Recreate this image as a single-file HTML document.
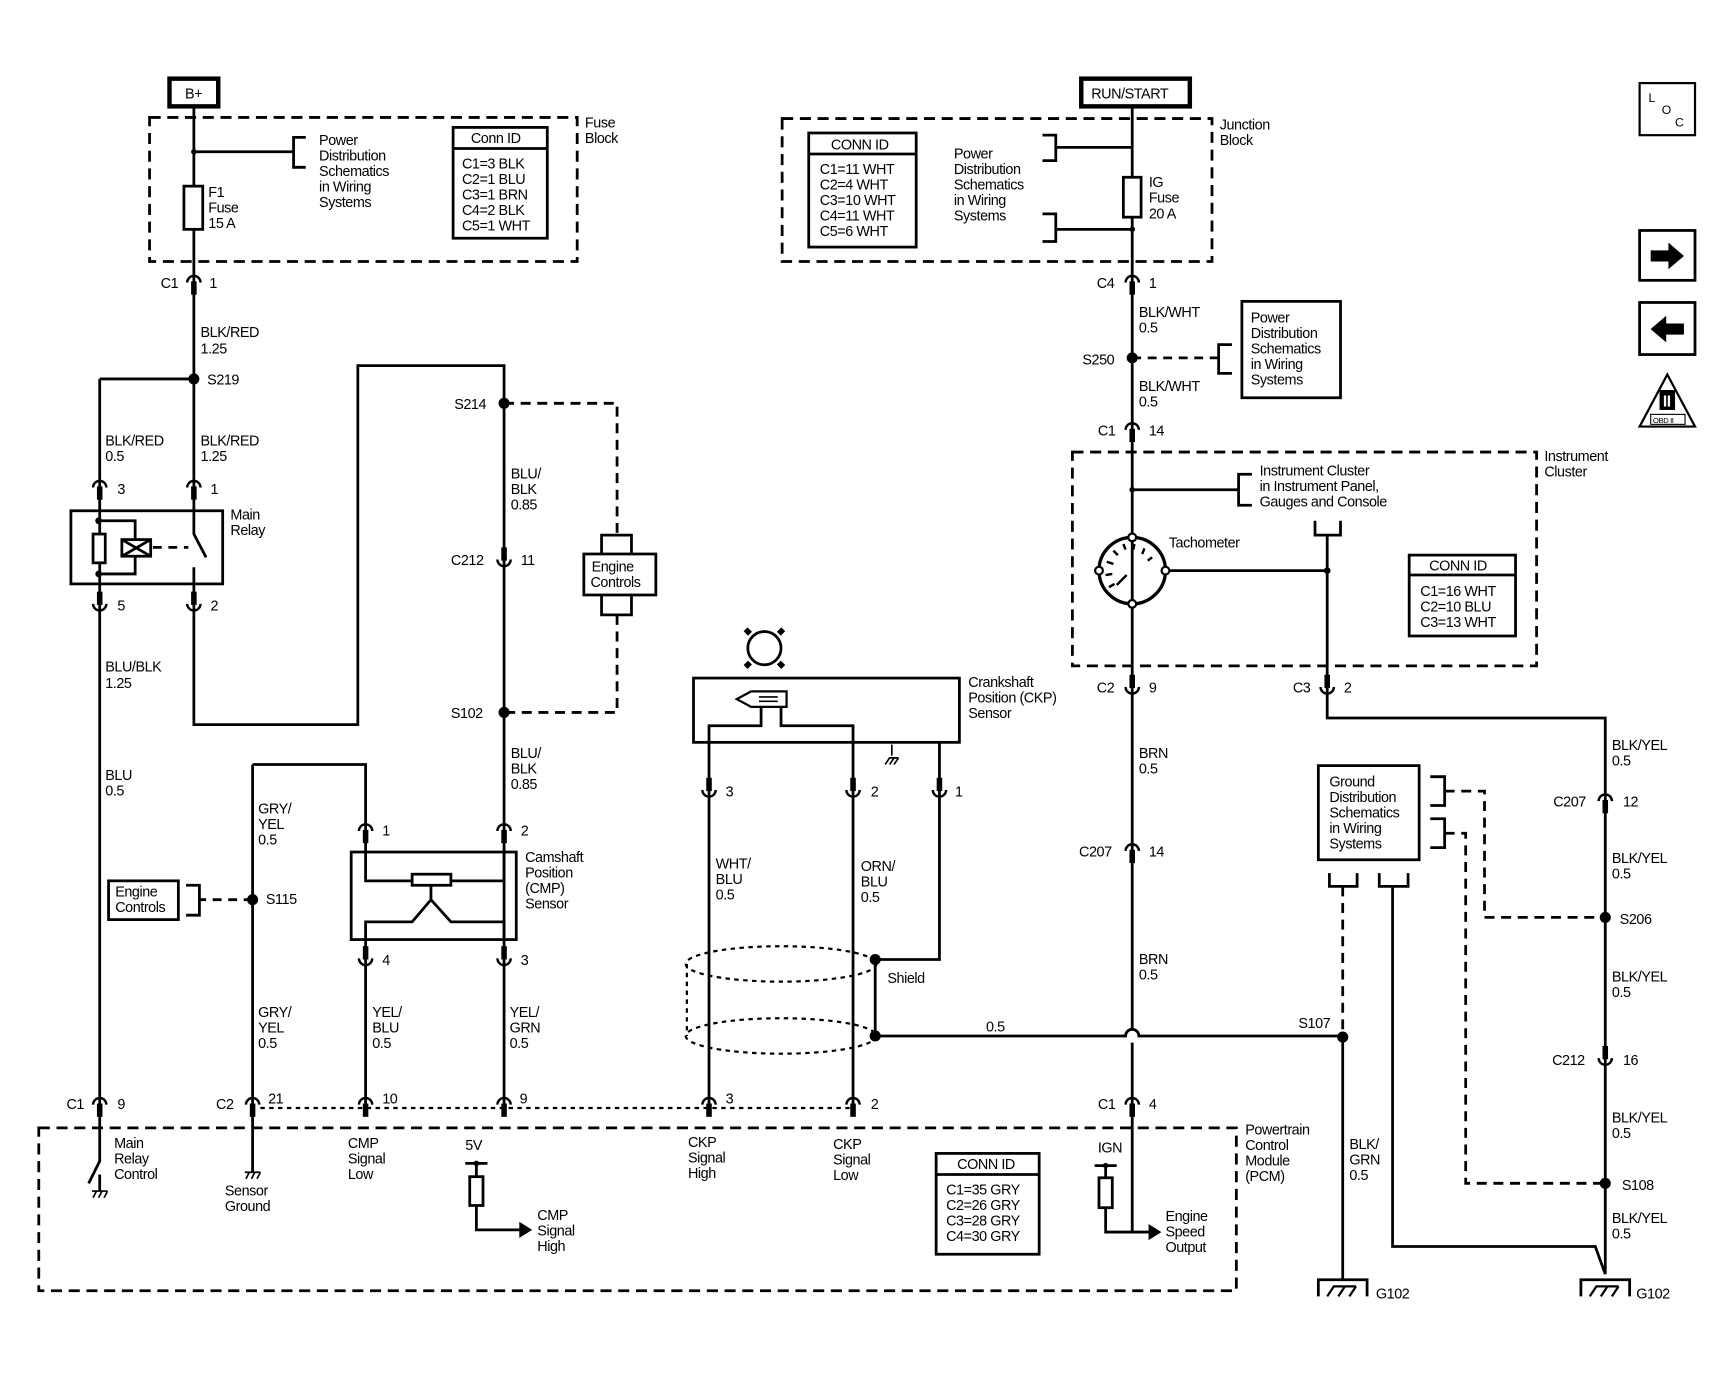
<!DOCTYPE html>
<html><head><meta charset="utf-8"><style>
html,body{margin:0;padding:0;background:#fff}
svg{display:block}
text{font-family:"Liberation Sans",Arial,sans-serif;font-size:13px;fill:#000;letter-spacing:-0.4px}
</style></head><body>
<svg width="1736" height="1375" viewBox="0 0 1567 1241" preserveAspectRatio="none" xmlns="http://www.w3.org/2000/svg">
<defs>
<g id="cu"><path d="M-6,-3 A6,6 0 0 0 6,-3" fill="none" stroke="#000" stroke-width="2.2"/><line x1="0" y1="-14" x2="0" y2="-2" stroke="#000" stroke-width="5"/></g>
<g id="cn"><path d="M-6,3 A6,6 0 0 1 6,3" fill="none" stroke="#000" stroke-width="2.2"/><line x1="0" y1="2" x2="0" y2="14" stroke="#000" stroke-width="5"/></g>
<g id="gnd"><path d="M-22,15 V0 H22 V15" fill="none" stroke="#000" stroke-width="2.5"/><path d="M-14,15 L-8,6 H12 M-4,15 L2,6 M6,15 L12,6" fill="none" stroke="#000" stroke-width="2"/></g>
<g id="sg"><path d="M-7,0 H7 M-6,6 l3,-6 M-1,6 l3,-6 M4,6 l3,-6" fill="none" stroke="#000" stroke-width="1.5"/></g>
</defs>
<g fill="none" stroke="#000" stroke-width="2.5">
<!-- B+ -->
<rect x="153" y="71" width="44" height="25" stroke-width="4"/>
<path d="M175,97 V440"/>
<rect x="135" y="106" width="386" height="130" stroke-dasharray="10,6"/>
<path d="M175,137 H265 M276,124 H265 V151 H276"/>
<rect x="166" y="168" width="17" height="39" fill="#fff"/>
<rect x="409" y="115" width="85" height="100"/><path d="M409,134 H494"/>
<!-- left wires -->
<path d="M90,342 H175 M90,342 V1005"/>
<rect x="64" y="461" width="137" height="66"/>
<rect x="84" y="482" width="11" height="26" fill="#fff"/>
<path d="M89,470 H122 V487 M89,518 H122 V502"/>
<rect x="110" y="487" width="26" height="15" fill="#fff"/><path d="M110,487 L136,502 M136,487 L110,502"/>
<path d="M138,494 H170" stroke-dasharray="8,6"/>
<path d="M175,440 V482 L186,503 M175,512 V548"/>
<path d="M175,548 V654 H323 V330 H455 V1000"/>
<path d="M455,364 H557 V483 M557,555 V643 H455" stroke-dasharray="9,6"/>
<rect x="527" y="500" width="65" height="37"/>
<path d="M543,500 V483 H570 V500 M543,537 V555 H570 V537"/>
<!-- CMP -->
<path d="M228,690 H330 V769 M228,690 V1058"/>
<path d="M228,812 H180" stroke-dasharray="8,6"/>
<path d="M168,799 H180 V826 H168"/>
<rect x="98" y="795" width="63" height="35"/>
<rect x="317" y="769" width="149" height="79"/>
<path d="M330,769 V795 H455 V769 M330,848 V832 H372 L389,812 L407,832 H455 V848 M389,812 V800"/>
<rect x="372" y="789" width="35" height="10" fill="#fff"/>
<path d="M330,848 V1000"/>
<!-- dotted row -->
<path d="M235,1000 H770" stroke-dasharray="4,4" stroke-width="2"/>
<!-- PCM -->
<rect x="35" y="1018" width="1081" height="147" stroke-dasharray="10,6"/>
<path d="M90,1005 V1048 L80,1068 M90,1060 V1075"/>
<use href="#sg" transform="translate(90,1075)"/>
<use href="#sg" transform="translate(228,1058)"/>
<path d="M420,1050 H440 M430,1050 V1062 M430,1088 V1110 H470"/>
<rect x="424" y="1062" width="12" height="26"/>
<path d="M470,1105 L478,1110 L470,1115 Z" fill="#000"/>
<path d="M988,1052 H1008 M998,1052 V1063 M998,1090 V1112 H1038"/>
<rect x="992" y="1063" width="12" height="27"/>
<path d="M1038,1107 L1046,1112 L1038,1117 Z" fill="#000"/>
<rect x="845" y="1041" width="93" height="91"/><path d="M845,1060 H938"/>
<!-- CKP -->
<circle cx="690" cy="585" r="15"/>
<path d="M677,572 l-4,-4 M703,572 l4,-4 M677,598 l-4,4 M703,598 l4,4" stroke-width="5"/>
<rect x="626" y="612" width="240" height="58"/>
<path d="M665,631 L678,624 H710 V638 H678 Z" stroke-width="2"/>
<path d="M685,629 H702 M685,633 H702" stroke-width="1.5"/>
<path d="M640,1000 V655 H687 V638 M705,638 V655 H770 V1000"/>
<path d="M805,672 V682" stroke-width="1.5"/>
<path d="M799,690 l4,-6 h8 M803,690 l4,-6 M807,690 l4,-6" stroke-width="1.5"/>
<path d="M848,670 V866 H790 V935"/>
<ellipse cx="705" cy="870" rx="86" ry="16" stroke-dasharray="4,4" stroke-width="2"/>
<ellipse cx="705" cy="935" rx="86" ry="16" stroke-dasharray="4,4" stroke-width="2"/>
<path d="M620,870 V935" stroke-dasharray="4,4" stroke-width="2"/>
<path d="M790,935 H1016 A6,6 0 0 1 1028,935 H1212"/>
<!-- right -->
<rect x="976" y="71" width="98" height="25" stroke-width="4"/>
<path d="M1022,97 V929 M1022,941 V1112"/>
<rect x="706" y="107" width="388" height="129" stroke-dasharray="10,6"/>
<rect x="730" y="120" width="97" height="103"/><path d="M730,139 H827"/>
<path d="M941,122 H953 V145 H941 M953,133 H1022 M941,193 H953 V218 H941 M953,207 H1022"/>
<rect x="1014" y="160" width="16" height="36" fill="#fff"/>
<path d="M1022,323 H1100" stroke-dasharray="8,6"/>
<path d="M1112,311 H1100 V337 H1112"/>
<rect x="1121" y="272" width="89" height="87"/>
<rect x="968" y="408" width="419" height="193" stroke-dasharray="10,6"/>
<path d="M1022,442 H1118 M1130,428 H1118 V456 H1130"/>
<path d="M1187,470 V483 H1210 V470 M1198,483 V648 H1449 V1150"/>
<circle cx="1022" cy="515" r="30" stroke-width="3"/>
<circle cx="1022" cy="485" r="3.5" fill="#fff" stroke-width="2"/>
<circle cx="1022" cy="545" r="3.5" fill="#fff" stroke-width="2"/>
<circle cx="992" cy="515" r="3.5" fill="#fff" stroke-width="2"/>
<circle cx="1052" cy="515" r="3.5" fill="#fff" stroke-width="2"/>
<path d="M1001,530 l5,-3 M998,519 l6,-1 M999,507 l6,2 M1005,497 l4,4 M1014,491 l2,5 M1024,491 l-1,5 M1033,495 l-2,5 M1040,503 l-4,3 M1008,528 l9,-9" stroke-width="2.2"/>
<path d="M1055,515 H1198"/>
<rect x="1272" y="501" width="96" height="73"/><path d="M1272,519 H1368"/>
<rect x="1190" y="691" width="91" height="85"/>
<path d="M1291,701 H1304 V727 H1291 M1291,739 H1304 V765 H1291"/>
<path d="M1304,714 H1340 V828 H1449 M1304,752 H1323 V1068 H1449" stroke-dasharray="9,6"/>
<path d="M1200,788 V800 H1225 V788 M1245,788 V800 H1271 V788"/>
<path d="M1212,800 V936" stroke-dasharray="9,6"/>
<path d="M1212,936 V1155 M1257,800 V1125 H1440 L1449,1150"/>
<use href="#gnd" transform="translate(1212,1155)"/>
<use href="#gnd" transform="translate(1449,1155)"/>
<!-- right icons -->
<rect x="1480" y="75" width="50" height="47" stroke-width="2"/>
<rect x="1480" y="208" width="50" height="45" stroke-width="2.5"/>
<rect x="1480" y="273" width="50" height="47" stroke-width="2.5"/>
<path d="M1490,226 H1506 V219 L1520,231 L1506,243 V236 H1490 Z" fill="#000" stroke="none"/>
<path d="M1520,292 H1504 V285 L1490,297 L1504,309 V302 H1520 Z" fill="#000" stroke="none"/>
<path d="M1505,338 L1530,385 H1480 Z" stroke-width="2"/>
<rect x="1498" y="352" width="14" height="18" fill="#000" stroke="none"/>
<rect x="1490" y="374" width="31" height="9" fill="#fff" stroke-width="1"/>
</g>
<g fill="#000">
<circle cx="175" cy="137" r="2.5"/><circle cx="175" cy="342" r="5"/>
<circle cx="89" cy="470" r="3"/><circle cx="89" cy="518" r="3"/>
<circle cx="455" cy="364" r="5"/><circle cx="455" cy="643" r="5"/>
<circle cx="228" cy="812" r="5"/>
<circle cx="790" cy="866" r="5"/><circle cx="790" cy="935" r="5"/>
<circle cx="1212" cy="936" r="5"/>
<circle cx="1022" cy="207" r="2.5"/><circle cx="1022" cy="323" r="5"/>
<circle cx="1022" cy="442" r="2.5"/><circle cx="1198" cy="515" r="3"/>
<circle cx="1449" cy="828" r="5"/><circle cx="1449" cy="1068" r="5"/>
<circle cx="430" cy="1050" r="2.5"/><circle cx="998" cy="1052" r="2.5"/>
</g>
<!-- connectors -->
<use href="#cn" x="175" y="252"/><use href="#cn" x="90" y="437"/><use href="#cn" x="175" y="437"/>
<use href="#cu" x="90" y="548"/><use href="#cu" x="175" y="548"/>
<use href="#cu" x="455" y="508"/>
<use href="#cn" x="330" y="747"/><use href="#cn" x="455" y="747"/>
<use href="#cu" x="330" y="868"/><use href="#cu" x="455" y="868"/>
<use href="#cu" x="640" y="716"/><use href="#cu" x="770" y="716"/><use href="#cu" x="848" y="716"/>
<use href="#cn" x="90" y="994"/><use href="#cn" x="228" y="994"/><use href="#cn" x="330" y="994"/><use href="#cn" x="455" y="994"/><use href="#cn" x="640" y="994"/><use href="#cn" x="770" y="994"/><use href="#cn" x="1022" y="994"/>
<use href="#cn" x="1022" y="252"/><use href="#cn" x="1022" y="385"/>
<use href="#cu" x="1022" y="623"/><use href="#cu" x="1198" y="623"/>
<use href="#cn" x="1022" y="765"/><use href="#cn" x="1449" y="720"/><use href="#cu" x="1449" y="958"/>
<!-- text -->
<text x="167" y="89">B+</text>
<text x="528" y="115">Fuse</text><text x="528" y="129">Block</text>
<text x="288" y="131">Power</text><text x="288" y="145">Distribution</text><text x="288" y="159">Schematics</text><text x="288" y="173">in Wiring</text><text x="288" y="187">Systems</text>
<text x="188" y="178">F1</text><text x="188" y="192">Fuse</text><text x="188" y="206">15 A</text>
<text x="425" y="129">Conn ID</text>
<text x="417" y="152">C1=3 BLK</text><text x="417" y="166">C2=1 BLU</text><text x="417" y="180">C3=1 BRN</text><text x="417" y="194">C4=2 BLK</text><text x="417" y="208">C5=1 WHT</text>
<text x="145" y="260">C1</text><text x="189" y="260">1</text>
<text x="181" y="304">BLK/RED</text><text x="181" y="319">1.25</text>
<text x="187" y="347">S219</text>
<text x="95" y="402">BLK/RED</text><text x="95" y="416">0.5</text>
<text x="181" y="402">BLK/RED</text><text x="181" y="416">1.25</text>
<text x="106" y="446">3</text><text x="190" y="446">1</text>
<text x="208" y="469">Main</text><text x="208" y="483">Relay</text>
<text x="106" y="551">5</text><text x="190" y="551">2</text>
<text x="95" y="606">BLU/BLK</text><text x="95" y="621">1.25</text>
<text x="95" y="704">BLU</text><text x="95" y="718">0.5</text>
<text x="410" y="369">S214</text>
<text x="461" y="432">BLU/</text><text x="461" y="446">BLK</text><text x="461" y="460">0.85</text>
<text x="407" y="510">C212</text><text x="470" y="510">11</text>
<text x="534" y="516">Engine</text><text x="533" y="530">Controls</text>
<text x="407" y="648">S102</text>
<text x="461" y="684">BLU/</text><text x="461" y="698">BLK</text><text x="461" y="712">0.85</text>
<text x="233" y="734">GRY/</text><text x="233" y="748">YEL</text><text x="233" y="762">0.5</text>
<text x="345" y="754">1</text><text x="470" y="754">2</text>
<text x="474" y="778">Camshaft</text><text x="474" y="792">Position</text><text x="474" y="806">(CMP)</text><text x="474" y="820">Sensor</text>
<text x="104" y="809">Engine</text><text x="104" y="823">Controls</text>
<text x="240" y="816">S115</text>
<text x="345" y="871">4</text><text x="470" y="871">3</text>
<text x="233" y="918">GRY/</text><text x="233" y="932">YEL</text><text x="233" y="946">0.5</text>
<text x="336" y="918">YEL/</text><text x="336" y="932">BLU</text><text x="336" y="946">0.5</text>
<text x="460" y="918">YEL/</text><text x="460" y="932">GRN</text><text x="460" y="946">0.5</text>
<text x="60" y="1001">C1</text><text x="106" y="1001">9</text>
<text x="195" y="1001">C2</text><text x="242" y="996">21</text>
<text x="345" y="996">10</text><text x="469" y="996">9</text><text x="655" y="996">3</text><text x="786" y="1001">2</text>
<text x="991" y="1001">C1</text><text x="1037" y="1001">4</text>
<text x="103" y="1036">Main</text><text x="103" y="1050">Relay</text><text x="103" y="1064">Control</text>
<text x="203" y="1079">Sensor</text><text x="203" y="1093">Ground</text>
<text x="314" y="1036">CMP</text><text x="314" y="1050">Signal</text><text x="314" y="1064">Low</text>
<text x="420" y="1038">5V</text>
<text x="485" y="1101">CMP</text><text x="485" y="1115">Signal</text><text x="485" y="1129">High</text>
<text x="621" y="1035">CKP</text><text x="621" y="1049">Signal</text><text x="621" y="1063">High</text>
<text x="752" y="1037">CKP</text><text x="752" y="1051">Signal</text><text x="752" y="1065">Low</text>
<text x="864" y="1055">CONN ID</text>
<text x="854" y="1078">C1=35 GRY</text><text x="854" y="1092">C2=26 GRY</text><text x="854" y="1106">C3=28 GRY</text><text x="854" y="1120">C4=30 GRY</text>
<text x="991" y="1040">IGN</text>
<text x="1052" y="1102">Engine</text><text x="1052" y="1116">Speed</text><text x="1052" y="1130">Output</text>
<text x="1124" y="1024">Powertrain</text><text x="1124" y="1038">Control</text><text x="1124" y="1052">Module</text><text x="1124" y="1066">(PCM)</text>
<text x="874" y="620">Crankshaft</text><text x="874" y="634">Position (CKP)</text><text x="874" y="648">Sensor</text>
<text x="655" y="719">3</text><text x="786" y="719">2</text><text x="862" y="719">1</text>
<text x="646" y="784">WHT/</text><text x="646" y="798">BLU</text><text x="646" y="812">0.5</text>
<text x="777" y="786">ORN/</text><text x="777" y="800">BLU</text><text x="777" y="814">0.5</text>
<text x="801" y="887">Shield</text>
<text x="890" y="931">0.5</text><text x="1172" y="928">S107</text>
<text x="985" y="89">RUN/START</text>
<text x="1101" y="117">Junction</text><text x="1101" y="131">Block</text>
<text x="750" y="135">CONN ID</text>
<text x="740" y="157">C1=11 WHT</text><text x="740" y="171">C2=4 WHT</text><text x="740" y="185">C3=10 WHT</text><text x="740" y="199">C4=11 WHT</text><text x="740" y="213">C5=6 WHT</text>
<text x="861" y="143">Power</text><text x="861" y="157">Distribution</text><text x="861" y="171">Schematics</text><text x="861" y="185">in Wiring</text><text x="861" y="199">Systems</text>
<text x="1037" y="169">IG</text><text x="1037" y="183">Fuse</text><text x="1037" y="197">20 A</text>
<text x="990" y="260">C4</text><text x="1037" y="260">1</text>
<text x="1028" y="286">BLK/WHT</text><text x="1028" y="300">0.5</text>
<text x="977" y="329">S250</text>
<text x="1129" y="291">Power</text><text x="1129" y="305">Distribution</text><text x="1129" y="319">Schematics</text><text x="1129" y="333">in Wiring</text><text x="1129" y="347">Systems</text>
<text x="1028" y="353">BLK/WHT</text><text x="1028" y="367">0.5</text>
<text x="991" y="393">C1</text><text x="1037" y="393">14</text>
<text x="1394" y="416">Instrument</text><text x="1394" y="430">Cluster</text>
<text x="1137" y="429">Instrument Cluster</text><text x="1137" y="443">in Instrument Panel,</text><text x="1137" y="457">Gauges and Console</text>
<text x="1055" y="494">Tachometer</text>
<text x="1290" y="515">CONN ID</text>
<text x="1282" y="538">C1=16 WHT</text><text x="1282" y="552">C2=10 BLU</text><text x="1282" y="566">C3=13 WHT</text>
<text x="990" y="625">C2</text><text x="1037" y="625">9</text><text x="1167" y="625">C3</text><text x="1213" y="625">2</text>
<text x="1028" y="684">BRN</text><text x="1028" y="698">0.5</text>
<text x="974" y="773">C207</text><text x="1037" y="773">14</text>
<text x="1028" y="870">BRN</text><text x="1028" y="884">0.5</text>
<text x="1455" y="677">BLK/YEL</text><text x="1455" y="691">0.5</text>
<text x="1402" y="728">C207</text><text x="1465" y="728">12</text>
<text x="1455" y="779">BLK/YEL</text><text x="1455" y="793">0.5</text>
<text x="1462" y="834">S206</text>
<text x="1455" y="886">BLK/YEL</text><text x="1455" y="900">0.5</text>
<text x="1401" y="961">C212</text><text x="1465" y="961">16</text>
<text x="1455" y="1013">BLK/YEL</text><text x="1455" y="1027">0.5</text>
<text x="1464" y="1074">S108</text>
<text x="1455" y="1104">BLK/YEL</text><text x="1455" y="1118">0.5</text>
<text x="1200" y="710">Ground</text><text x="1200" y="724">Distribution</text><text x="1200" y="738">Schematics</text><text x="1200" y="752">in Wiring</text><text x="1200" y="766">Systems</text>
<text x="1218" y="1037">BLK/</text><text x="1218" y="1051">GRN</text><text x="1218" y="1065">0.5</text>
<text x="1242" y="1172">G102</text><text x="1477" y="1172">G102</text>
<text x="1488" y="92" style="font-size:11px">L</text><text x="1500" y="103" style="font-size:11px">O</text><text x="1512" y="114" style="font-size:11px">C</text>
<text x="1492" y="382" style="font-size:7px">OBD II</text>
<text x="1501" y="367" style="font-size:14px;fill:#fff;font-weight:bold">II</text>
</svg>
</body></html>
